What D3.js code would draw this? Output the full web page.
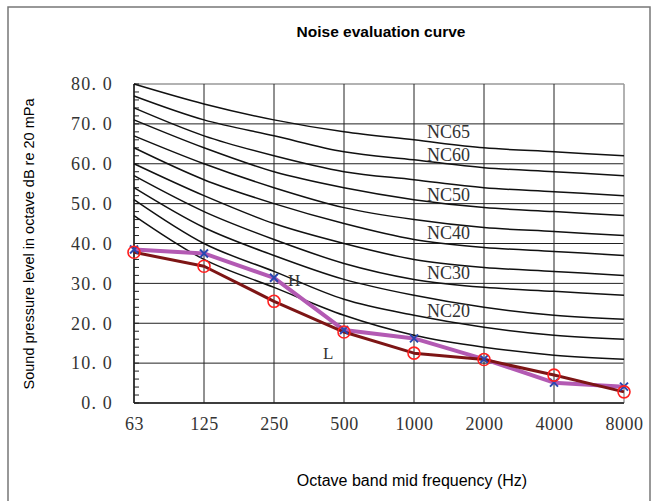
<!DOCTYPE html>
<html><head><meta charset="utf-8">
<script src="https://cdn.jsdelivr.net/npm/d3@7"></script>
<style>
body{margin:0;background:#fff;}
svg{display:block;}
</style></head>
<body>
<svg id="chart" width="656" height="501"></svg>
<script>
const frequencies = ["63","125","250","500","1000","2000","4000","8000"];
const ncLevels = [15,20,25,30,35,40,45,50,55,60,65];
const nc15 = [47,36,29,22,17,14,12,11];
const nc20 = [51,40,33,26,22,19,17,16];
const nc25 = [54,44,37,31,27,24,22,21];
const nc30 = [57,48,41,35,31,29,28,27];
const nc35 = [60,52,45,40,36,34,33,32];
const nc40 = [64,56,50,45,41,39,38,37];
const nc45 = [67,60,54,49,46,44,43,42];
const nc50 = [71,64,58,54,51,49,48,47];
const nc55 = [74,67,62,58,56,54,53,52];
const nc60 = [77,71,67,63,61,59,58,57];
const nc65 = [80,75,71,68,66,64,63,62];
const ncCurves = [nc15,nc20,nc25,nc30,nc35,nc40,nc45,nc50,nc55,nc60,nc65];
const seriesH = [38.5,37.5,31.4,18.3,16.2,11.0,5.1,4.1];
const seriesL = [37.8,34.3,25.5,17.8,12.5,10.9,7.0,2.8];
const ncLabels = ["NC65","NC60","NC50","NC40","NC30","NC20"];
const ncLabelLevels = [68.1,62.2,52.2,42.6,32.8,23.1];
const yTicks = [0,10,20,30,40,50,60,70,80];

const svg = d3.select("#chart");
const L = 134, R = 624, T = 84, B = 403;
const x = d3.scalePoint().domain(frequencies).range([L, R]);
const y = d3.scaleLinear().domain([0, 80]).range([B, T]);

// outer frame
svg.append("rect").attr("x",8).attr("y",7).attr("width",642).attr("height",520)
  .attr("fill","none").attr("stroke","#777").attr("stroke-width",1.5);

// title
svg.append("text").attr("x",381).attr("y",37).attr("text-anchor","middle")
  .attr("font-family","Liberation Sans, Arial, sans-serif").attr("font-weight","bold")
  .attr("font-size",15.5).text("Noise evaluation curve");

// gridlines
const grid = svg.append("g");
grid.selectAll("line.h").data(yTicks).join("line")
  .attr("x1",L).attr("x2",R).attr("y1",d=>y(d)).attr("y2",d=>y(d))
  .attr("stroke",d=>d===80?"#999":"#222").attr("stroke-width",d=>d===80?1.5:1);
grid.selectAll("line.v").data(frequencies).join("line")
  .attr("x1",d=>x(d)).attr("x2",d=>x(d)).attr("y1",T).attr("y2",B)
  .attr("stroke",(d,i)=>i===frequencies.length-1?"#999":"#222")
  .attr("stroke-width",(d,i)=>i===frequencies.length-1?1.5:1);

// y axis with minor ticks inside
const yMinor = d3.range(0, 81, 2);
svg.append("g").selectAll("line").data(yMinor).join("line")
  .attr("x1",L).attr("x2",L+5).attr("y1",d=>y(d)).attr("y2",d=>y(d))
  .attr("stroke","#222").attr("stroke-width",1);
svg.append("line").attr("x1",L).attr("x2",L).attr("y1",T).attr("y2",B)
  .attr("stroke","#222").attr("stroke-width",1.5);
svg.append("line").attr("x1",L).attr("x2",R).attr("y1",B).attr("y2",B)
  .attr("stroke","#222").attr("stroke-width",1.5);

const yAxis = d3.axisLeft(y).tickValues(yTicks).tickSize(0).tickPadding(21)
  .tickFormat(d => d.toFixed(1).replace(".", ". "));
const gy = svg.append("g").attr("transform",`translate(${L},0)`).call(yAxis);
gy.select(".domain").remove();
gy.selectAll("text").attr("font-family","Liberation Serif, Times New Roman, serif")
  .attr("font-size",18).attr("fill","#333").style("letter-spacing","1.2px");

const xAxis = d3.axisBottom(x).tickSize(0).tickPadding(14);
const gx = svg.append("g").attr("transform",`translate(0,${B})`).call(xAxis);
gx.select(".domain").remove();
gx.selectAll("text").attr("font-family","Liberation Serif, Times New Roman, serif")
  .attr("font-size",18).attr("fill","#333").style("letter-spacing","0.5px");

// NC curves
const ncLine = d3.line().x((d,i)=>x(frequencies[i])).y(d=>y(d)).curve(d3.curveCardinal.tension(0));
svg.append("g").selectAll("path").data(ncCurves).join("path")
  .attr("d",ncLine).attr("fill","none").attr("stroke","#111").attr("stroke-width",1.5);

// NC labels
svg.append("g").selectAll("text").data(ncLabels).join("text")
  .attr("x",427).attr("y",(d,i)=>y(ncLabelLevels[i])).attr("dy","0.35em")
  .attr("font-family","Liberation Serif, Times New Roman, serif").attr("font-size",18)
  .attr("fill","#333").text(d=>d);

// data series
const lineH = d3.line().x((d,i)=>x(frequencies[i])).y(d=>y(d));
const lineL = d3.line().x((d,i)=>x(frequencies[i])).y(d=>y(d));
svg.append("path").datum(seriesH).attr("d",lineH).attr("fill","none")
  .attr("stroke","#b35ab3").attr("stroke-width",4).attr("stroke-linejoin","round");
svg.append("path").datum(seriesL).attr("d",lineL).attr("fill","none")
  .attr("stroke","#7d1515").attr("stroke-width",3).attr("stroke-linejoin","round");

svg.append("g").selectAll("path").data(seriesH).join("path")
  .attr("transform",(d,i)=>`translate(${x(frequencies[i])},${y(d)})`)
  .attr("d","M-4,-4L4,4M-4,4L4,-4").attr("stroke","#2848b0").attr("stroke-width",2).attr("fill","none");
svg.append("g").selectAll("circle").data(seriesL).join("circle")
  .attr("cx",(d,i)=>x(frequencies[i])).attr("cy",d=>y(d)).attr("r",6)
  .attr("fill","none").attr("stroke","#ff2020").attr("stroke-width",1.6);

// H / L labels
svg.append("text").attr("x",x("250")+14).attr("y",y(seriesH[2])+2).attr("dy","0.35em")
  .attr("font-family","Liberation Serif, Times New Roman, serif").attr("font-size",17)
  .attr("fill","#333").text("H");
svg.append("text").attr("x",x("500")-21).attr("y",y(seriesL[3])+21).attr("dy","0.35em")
  .attr("font-family","Liberation Serif, Times New Roman, serif").attr("font-size",17)
  .attr("fill","#333").text("L");

// axis titles
svg.append("text").attr("transform","translate(34,244) rotate(-90)").attr("text-anchor","middle")
  .attr("font-family","Liberation Sans, Arial, sans-serif").attr("font-size",14.5)
  .text("Sound pressure level in octave dB re 20 mPa");
svg.append("text").attr("x",412).attr("y",486).attr("text-anchor","middle")
  .attr("font-family","Liberation Sans, Arial, sans-serif").attr("font-size",16)
  .text("Octave band mid frequency (Hz)");
</script>
</body></html>
